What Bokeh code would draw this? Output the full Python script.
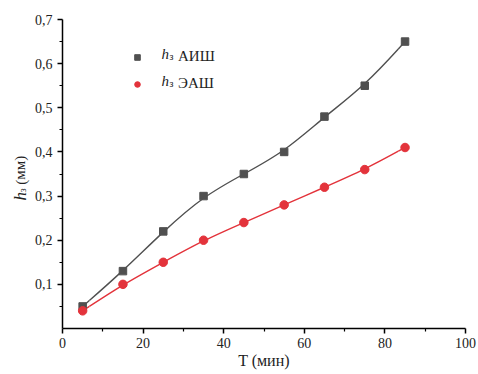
from bokeh.plotting import figure
from bokeh.layouts import row
from bokeh.models import (FixedTicker, CustomJSTickFormatter, Label, Legend, LegendItem, Range1d)
from bokeh.core.properties import value
from bokeh.embed import file_html
from bokeh.resources import INLINE

# data
t = [5, 15, 25, 35, 45, 55, 65, 75, 85]
h_aish = [0.05, 0.13, 0.22, 0.30, 0.35, 0.40, 0.48, 0.55, 0.65]
h_eash = [0.04, 0.10, 0.15, 0.20, 0.24, 0.28, 0.32, 0.36, 0.41]
x_ticks = [0, 20, 40, 60, 80, 100]
y_ticks = [0.1, 0.2, 0.3, 0.4, 0.5, 0.6, 0.7]
series_names = ["АИШ", "ЭАШ"]
y_label_parts = ["h", "з", "(мм)"]

GRAY = "#505050"
RED = "#e3333b"
FONT = "Liberation Serif, Times New Roman, Tinos, DejaVu Serif, serif"
TXT = "#222222"

# ---- narrow side figure holding the y-axis title ----
side = figure(width=30, height=374, output_backend="svg", toolbar_location=None,
              x_range=Range1d(0, 30), y_range=Range1d(0, 374),
              min_border=0, min_border_left=0, min_border_right=0,
              min_border_top=0, min_border_bottom=0)
side.axis.visible = False
side.grid.visible = False
side.outline_line_color = None
side.background_fill_color = "white"
side.border_fill_color = "white"
side.text(x=[20], y=[374 - 219], text=[y_label_parts[0]], angle=1.5708,
          text_font=value(FONT), text_font_size="17px", text_font_style="italic",
          text_color=TXT, text_baseline="alphabetic", text_align="left")
side.text(x=[22], y=[374 - 209], text=[y_label_parts[1]], angle=1.5708,
          text_font=value(FONT), text_font_size="10px",
          text_color=TXT, text_baseline="alphabetic", text_align="left")
side.text(x=[20], y=[374 - 200], text=[y_label_parts[2]], angle=1.5708,
          text_font=value(FONT), text_font_size="15px",
          text_color=TXT, text_baseline="alphabetic", text_align="left")

# ---- main figure ----
p = figure(width=448, height=374, output_backend="svg", toolbar_location=None,
           x_range=Range1d(0, 100), y_range=Range1d(0, 0.7),
           min_border_left=32, min_border_right=13, min_border_top=19, min_border_bottom=46)
p.outline_line_color = None
p.xgrid.visible = False
p.ygrid.visible = False
p.background_fill_color = "white"
p.border_fill_color = "white"


def bspline(p, xs, ys, color):
    # uniform cubic B-spline with the data points as control points
    # (ends tripled so the curve starts and ends at the first/last point),
    # converted to Bezier segments
    qx = [xs[0], xs[0]] + list(xs) + [xs[-1], xs[-1]]
    qy = [ys[0], ys[0]] + list(ys) + [ys[-1], ys[-1]]
    x0, y0, x1, y1, cx0, cy0, cx1, cy1 = [], [], [], [], [], [], [], []
    for j in range(len(qx) - 3):
        bx, by = qx[j:j + 4], qy[j:j + 4]
        x0.append((bx[0] + 4 * bx[1] + bx[2]) / 6.0)
        y0.append((by[0] + 4 * by[1] + by[2]) / 6.0)
        cx0.append((2 * bx[1] + bx[2]) / 3.0)
        cy0.append((2 * by[1] + by[2]) / 3.0)
        cx1.append((bx[1] + 2 * bx[2]) / 3.0)
        cy1.append((by[1] + 2 * by[2]) / 3.0)
        x1.append((bx[1] + 4 * bx[2] + bx[3]) / 6.0)
        y1.append((by[1] + 4 * by[2] + by[3]) / 6.0)
    p.bezier(x0=x0, y0=y0, x1=x1, y1=y1, cx0=cx0, cy0=cy0, cx1=cx1, cy1=cy1,
             line_color=color, line_width=1.4)


bspline(p, t, h_aish, GRAY)
bspline(p, t, h_eash, RED)
r1 = p.scatter(t, h_aish, marker="square", size=7.5, color=GRAY)
r2 = p.scatter(t, h_eash, marker="circle", size=8.5, color=RED)

# axes
for ax in (p.xaxis[0], p.yaxis[0]):
    ax.axis_line_color = "black"
    ax.axis_line_width = 1.5
    ax.major_tick_line_color = "black"
    ax.major_tick_line_width = 1.5
    ax.minor_tick_line_color = "black"
    ax.minor_tick_line_width = 1.2
    ax.major_tick_out = 5
    ax.major_tick_in = 0
    ax.minor_tick_out = 3
    ax.minor_tick_in = 0
    ax.major_label_text_font = FONT
    ax.major_label_text_font_size = "14px"
    ax.major_label_text_color = TXT
    ax.axis_label_text_font = FONT
    ax.axis_label_text_font_style = "normal"
    ax.axis_label_text_color = TXT

p.xaxis.ticker = FixedTicker(ticks=x_ticks, minor_ticks=[10, 30, 50, 70, 90])
p.yaxis.ticker = FixedTicker(ticks=y_ticks, minor_ticks=[0.05, 0.15, 0.25, 0.35, 0.45, 0.55, 0.65])
p.yaxis.formatter = CustomJSTickFormatter(code="return tick.toFixed(1).replace('.', ',');")
p.xaxis.formatter = CustomJSTickFormatter(code="return tick.toFixed(0);")
p.xaxis.major_label_standoff = 4
p.yaxis.major_label_standoff = 5
p.xaxis.axis_label = "T (мин)"
p.xaxis.axis_label_text_font_size = "16px"
p.xaxis.axis_label_standoff = 1


def lab(text, x, y, size, style="normal"):
    p.add_layout(Label(x=x, y=y, x_units="screen", y_units="screen", text=text,
                       text_font=FONT, text_font_size=size, text_font_style=style,
                       text_color=TXT, text_baseline="alphabetic", text_align="left"))


# legend
legend = Legend(items=[LegendItem(label=series_names[0], renderers=[r1]),
                       LegendItem(label=series_names[1], renderers=[r2])],
                location=(68, 236), orientation="vertical")
legend.border_line_color = None
legend.background_fill_alpha = 0
legend.padding = 0
legend.margin = 0
legend.glyph_width = 14
legend.glyph_height = 14
legend.label_height = 14
legend.spacing = 10
legend.label_standoff = 34
legend.label_text_font = FONT
legend.label_text_font_size = "15px"
legend.label_text_color = TXT
p.add_layout(legend, "center")

# italic h + subscript in legend text
for i in range(2):
    yb = 328 - (53 + 27 * i)
    lab("h", 99, yb, "15px", "italic")
    lab("з", 107, yb - 3, "10px")

open("out.html", "w").write(file_html(row(side, p), INLINE))
